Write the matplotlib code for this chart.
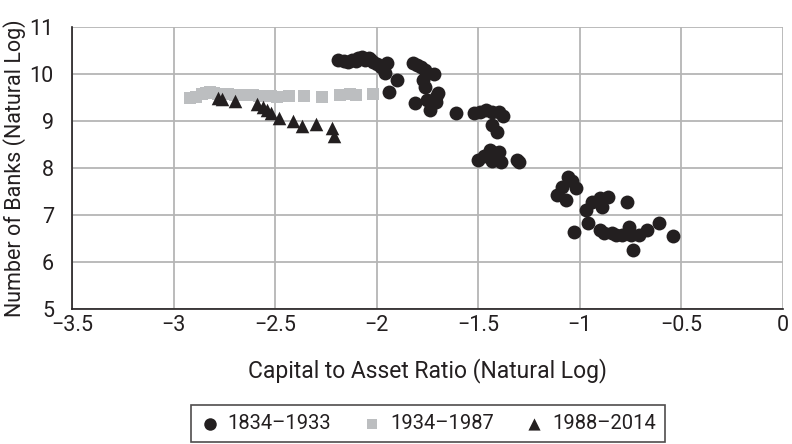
import matplotlib.pyplot as plt

plt.rcParams['font.family'] = ['Roboto', 'DejaVu Sans']

# 1834-1933 (circles)
x_1834 = [-2.19, -2.16, -2.14, -2.12, -2.10, -2.09, -2.07, -2.06, -2.04, -2.03, -2.02, -2.00,
          -1.98, -1.95, -1.96, -1.90, -1.94,
          -1.82, -1.80, -1.78, -1.76, -1.72, -1.77, -1.76, -1.70, -1.71, -1.71, -1.81, -1.75, -1.74,
          -1.61, -1.52, -1.49, -1.46, -1.43, -1.40, -1.38, -1.43, -1.41, -1.44, -1.42, -1.40,
          -1.50, -1.47, -1.39, -1.43, -1.31, -1.30,
          -1.06, -1.04, -1.09, -1.11, -1.07, -1.02, -0.97, -0.94, -0.90, -0.86, -0.89, -0.77,
          -1.03, -0.96, -0.90, -0.88, -0.84, -0.79, -0.76, -0.75, -0.71, -0.67, -0.61, -0.54,
          -0.74, -0.82]
y_1834 = [10.30, 10.27, 10.26, 10.30, 10.28, 10.34, 10.36, 10.30, 10.34, 10.31, 10.26, 10.22,
          10.15, 10.23, 10.02, 9.87, 9.62,
          10.23, 10.19, 10.15, 10.08, 10.00, 9.87, 9.72, 9.60, 9.52, 9.40, 9.38, 9.45, 9.23,
          9.17, 9.17, 9.20, 9.23, 9.20, 9.19, 9.11, 8.91, 8.77, 8.38, 8.33, 8.34,
          8.17, 8.25, 8.13, 8.15, 8.17, 8.13,
          7.81, 7.72, 7.60, 7.43, 7.32, 7.57, 7.11, 7.28, 7.36, 7.38, 7.17, 7.28,
          6.64, 6.83, 6.68, 6.62, 6.62, 6.57, 6.74, 6.57, 6.57, 6.68, 6.83, 6.55,
          6.26, 6.58]

# 1934-1987 (squares)
x_1934 = [-2.92, -2.89, -2.86, -2.84, -2.82, -2.80, -2.78, -2.76, -2.73, -2.70, -2.67, -2.64,
          -2.61, -2.58, -2.55, -2.52, -2.49, -2.43, -2.36, -2.27, -2.18, -2.13, -2.10, -2.02]
y_1934 = [9.50, 9.52, 9.57, 9.60, 9.61, 9.60, 9.58, 9.58, 9.57, 9.56, 9.55, 9.55,
          9.55, 9.54, 9.53, 9.53, 9.52, 9.53, 9.53, 9.52, 9.56, 9.57, 9.56, 9.57]

# 1988-2014 (triangles)
x_1988 = [-2.78, -2.76, -2.70, -2.59, -2.56, -2.54, -2.52, -2.48, -2.41, -2.37, -2.30, -2.22, -2.21]
y_1988 = [9.49, 9.47, 9.43, 9.36, 9.30, 9.23, 9.17, 9.06, 9.00, 8.89, 8.94, 8.85, 8.68]

DARK = '#231f20'
GRAY = '#bcbec0'

fig = plt.figure(figsize=(7.92, 4.44), dpi=100)
ax = fig.add_axes([0.0909, 0.304, 0.8977, 0.635])

ax.scatter(x_1834, y_1834, s=100, marker='o', color=DARK, linewidths=0, label='1834\u20131933', zorder=3)
ax.scatter(x_1934, y_1934, s=64, marker='s', color=GRAY, linewidths=0, label='1934\u20131987', zorder=3)
ax.scatter(x_1988, y_1988, s=95, marker='^', color=DARK, linewidths=0, label='1988\u20132014', zorder=4)

ax.set_xlim(-3.5, 0)
ax.set_ylim(5, 11)
ax.set_xticks([-3.5, -3, -2.5, -2, -1.5, -1, -0.5, 0])
ax.set_xticklabels(['\u22123.5', '\u22123', '\u22122.5', '\u22122', '\u22121.5', '\u22121', '\u22120.5', '0'])
ax.set_yticks([5, 6, 7, 8, 9, 10, 11])
ax.tick_params(axis='both', length=0, labelsize=15.5, colors=DARK)
ax.tick_params(axis='x', pad=4)
ax.tick_params(axis='y', pad=13)

ax.grid(True, color='#b5b5b5', linewidth=1.3)
ax.set_axisbelow(True)
for side in ['top', 'right']:
    ax.spines[side].set_visible(False)
for side in ['left', 'bottom']:
    ax.spines[side].set_color(DARK)
    ax.spines[side].set_linewidth(1.2)

ax.set_xlabel('Capital to Asset Ratio (Natural Log)', fontsize=16.5, color=DARK, labelpad=16)
ax.set_ylabel('Number of Banks (Natural Log)', fontsize=15.5, color=DARK, labelpad=3)

leg = fig.legend(loc='upper center', bbox_to_anchor=(0.540, 1 - 405 / 444), ncol=3,
                 fontsize=14.5, frameon=True, fancybox=False, borderaxespad=0,
                 handlelength=1.0, handletextpad=0.4, columnspacing=1.5, borderpad=0.45,
                 markerscale=0.9)
leg.get_frame().set_edgecolor(DARK)
leg.get_frame().set_linewidth(1.2)
for t in leg.get_texts():
    t.set_color(DARK)

fig.savefig('out.png', dpi=100)
